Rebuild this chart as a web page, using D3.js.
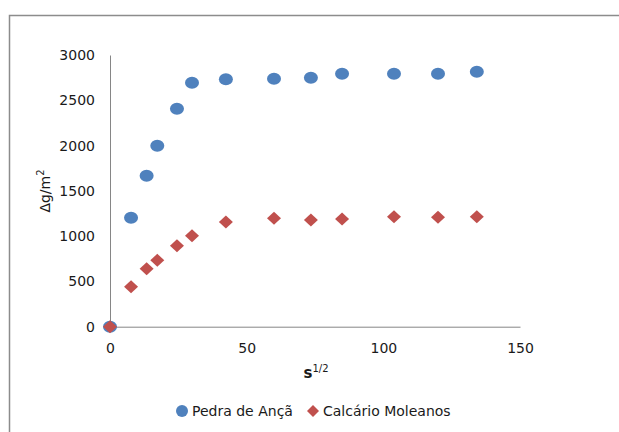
<!DOCTYPE html>
<html><head><meta charset="utf-8">
<script src="https://cdn.jsdelivr.net/npm/d3@7"></script>
<style>html,body{margin:0;padding:0;background:#fff;}svg{display:block;}</style>
</head><body>
<script>
const xValues = [0, 7.7, 13.4, 17.3, 24.5, 30, 42.4, 60, 73.5, 84.9, 103.9, 120, 134.2];
const pedraValues = [0, 1203, 1667, 1998, 2407, 2694, 2731, 2739, 2750, 2793, 2793, 2793, 2816];
const calcarioValues = [0, 442, 640, 733, 894, 1005, 1156, 1197, 1178, 1189, 1215, 1208, 1215];
const seriesNames = ["Pedra de Ançã", "Calcário Moleanos"];
const xTicks = [0, 50, 100, 150];
const yTicks = [0, 500, 1000, 1500, 2000, 2500, 3000];

const W = 619, H = 432;
const svg = d3.select("body").append("svg").attr("width", W).attr("height", H);
const font = "'DejaVu Sans', Verdana, sans-serif";
const txt = "#1a1a1a";

// chart border
svg.append("path").attr("d", `M9.5,${H} V15.5 H${W}`).attr("fill", "none")
  .attr("stroke", "#8c8c8c").attr("stroke-width", 1.5);

const x = d3.scaleLinear().domain([0, 150]).range([110, 520]);
const y = d3.scaleLinear().domain([0, 3000]).range([326.7, 55]);

const xAxis = svg.append("g").attr("transform", `translate(0,${y(0)})`)
  .call(d3.axisBottom(x).tickValues(xTicks).tickFormat(d3.format("d")).tickSize(0).tickPadding(16));
const yAxis = svg.append("g").attr("transform", `translate(${x(0)},0)`)
  .call(d3.axisLeft(y).tickValues(yTicks).tickFormat(d3.format("d")).tickSize(0).tickPadding(15));
[xAxis, yAxis].forEach(g => {
  g.select(".domain").attr("stroke", "#868686").attr("stroke-width", 1);
  g.selectAll("text").attr("font-family", font).attr("font-size", 14).attr("fill", txt);
});

// axis titles
svg.append("text").attr("transform", `translate(50,191) rotate(-90)`)
  .attr("text-anchor", "middle").attr("font-family", font).attr("font-size", 14).attr("fill", txt)
  .html('Δg/m<tspan font-size="10" dy="-6">2</tspan>');
svg.append("text").attr("x", 316).attr("y", 378)
  .attr("text-anchor", "middle").attr("font-family", font).attr("font-size", 15).attr("fill", txt)
  .html('<tspan font-weight="bold">s</tspan><tspan font-size="10" dy="-6">1/2</tspan>');

const pedra = xValues.map((v, i) => ({x: v, y: pedraValues[i]}));
const calc = xValues.map((v, i) => ({x: v, y: calcarioValues[i]}));

const blue = "#4F81BD", red = "#C0504D";
const diamond = (cx, cy) => `M${cx},${cy-6.5} L${cx+7},${cy} L${cx},${cy+6.5} L${cx-7},${cy} Z`;

svg.append("g").selectAll("ellipse").data(pedra).join("ellipse")
  .attr("cx", d => x(d.x)).attr("cy", d => y(d.y)).attr("rx", 7).attr("ry", 6).attr("fill", blue);
svg.append("g").selectAll("path").data(calc).join("path")
  .attr("d", d => diamond(x(d.x), y(d.y))).attr("fill", red);

// legend
const lg = svg.append("g");
lg.append("ellipse").attr("cx", 182).attr("cy", 411).attr("rx", 6).attr("ry", 6).attr("fill", blue);
lg.append("text").attr("x", 192).attr("y", 416).attr("font-family", font).attr("font-size", 14)
  .attr("fill", txt).text(seriesNames[0]);
lg.append("path").attr("d", `M313,405 L319,411 L313,417 L307,411 Z`).attr("fill", red);
lg.append("text").attr("x", 323).attr("y", 416).attr("font-family", font).attr("font-size", 14)
  .attr("fill", txt).text(seriesNames[1]);
</script>
</body></html>
